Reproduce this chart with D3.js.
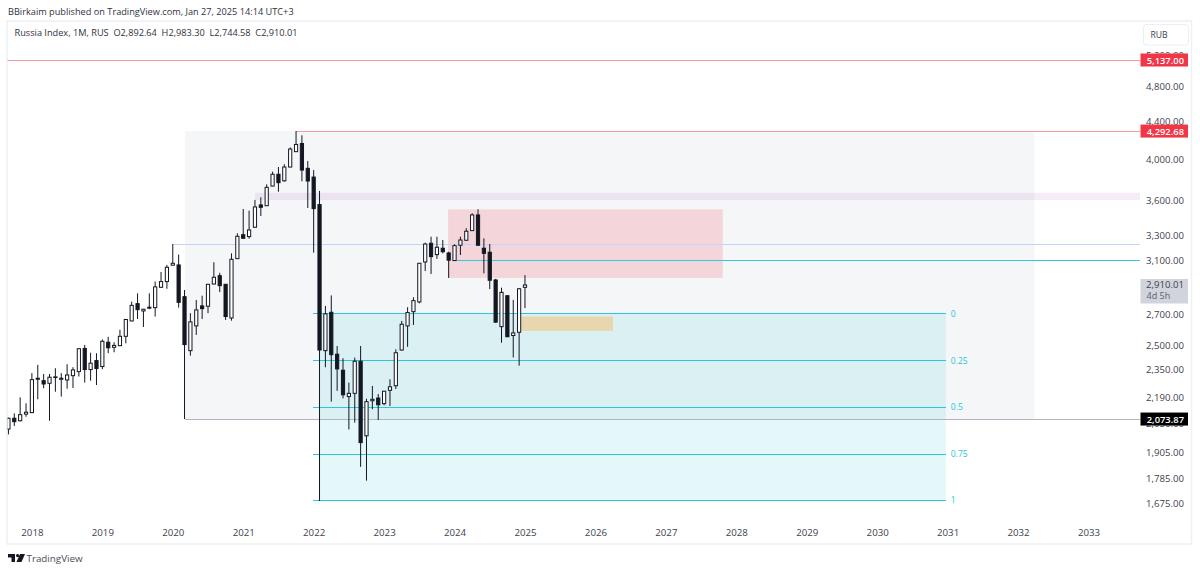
<!DOCTYPE html>
<html>
<head>
<meta charset="utf-8">
<script src="https://cdn.jsdelivr.net/npm/d3@7"></script>
<style>
  html, body { margin: 0; padding: 0; background: #fff; }
  svg { display: block; font-family: "Open Sans", sans-serif; }
</style>
</head>
<body>
<div id="chart"></div>
<script>
// monthly candles, first one is Sep 2017 (month index -4, Jan 2018 = 0)
const firstMonth = -4
const opens = [2022,2078,2065,2100,2108,2293,2285,2270,2303,2293,2289,2314,2338,2479,2350,2404,2368,2518,2486,2496,2556,2657,2776,2725,2744,2748,2893,2935,3059,3061,2825,2465,2624,2760,2758,2917,2979,2915,2677,3110,3304,3288,3367,3562,3555,3736,3849,3786,3920,4075,4160,3907,3822,3565,2465,2716,2443,2346,2195,2213,2400,1988,2172,2187,2156,2230,2256,2469,2624,2720,2788,3084,3233,3142,3193,3155,3095,3217,3258,3338,3473,3193,3161,2947,2619,2832,2561,2582,2892.64]
const highs = [2081,2104,2191,2158,2329,2378,2324,2324,2358,2329,2382,2364,2481,2501,2452,2449,2536,2553,2518,2599,2668,2790,2849,2739,2849,2935,3007,3061,3227,3142,2873,2710,2802,2832,2917,3082,3001,2917,3152,3316,3526,3511,3607,3631,3752,3874,3920,3947,4120,4292.68,4247,3980,3890,3690,2760,2834,2494,2418,2274,2422,2494,2183,2255,2209,2226,2293,2473,2657,2751,2821,3075,3238,3287,3287,3260,3165,3225,3287,3358,3488,3523,3274,3227,2955,2890,2837,2802,2888,2983.30]
const lows = [1995,2038,2062,2086,2105,2180,2242,2065,2222,2195,2239,2243,2309,2274,2285,2260,2352,2449,2455,2494,2511,2655,2670,2617,2737,2687,2888,2882,3058,2748,2073.87,2434,2565,2670,2710,2915,2858,2664,2659,3110,3271,3271,3361,3464,3553,3735,3683,3777,3918,4073,3781,3535,3157,1686,2364,2167,2227,2185,2020,2055,1838,1775,2126,2069,2147,2143,2237,2465,2489,2630,2778,3014,2992,3108,3152,2962,3092,3139,3252,3338,3214,2997,2880,2646,2515,2552,2423,2373,2744.58]
const closes = [2078,2060,2097,2110,2291,2299,2266,2305,2307,2299,2318,2348,2477,2350,2388,2356,2524,2483,2498,2556,2667,2764,2734,2737,2751,2896,2935,3043,3074,2785,2503,2651,2732,2741,2915,2967,2905,2687,3105,3291,3274,3344,3544,3541,3724,3849,3768,3920,4102,4150,3890,3784,3529,2469,2705,2440,2354,2205,2213,2400,1954,2167,2180,2150,2225,2250,2452,2635,2714,2797,3074,3227,3126,3201,3165,3098,3214,3260,3333,3473,3217,3152,2945,2649,2856,2553,2578,2882,2910.01]

const yearLabels = [2018,2019,2020,2021,2022,2023,2024,2025,2026,2027,2028,2029,2030,2031,2032,2033]
const priceTicks = [5200,4800,4400,4000,3600,3300,3100,2700,2500,2350,2190,2050,1905,1785,1675]

const fibLabels = ["0","0.25","0.5","0.75","1"]
const fibPrices = [2705,2404,2136,1897,1689]

const resistanceTop = 5137
const peakPrice = 4292.68
const covidLow = 2073.87
const lastClose = 2910.01
const blueLevel = 3227
const cyanLevel = 3098

const width = 1200
const height = 572
const plotLeft = 7.5
const plotRight = 1140
const labelRight = 1184

const x = d3.scaleLinear().domain([0, 180]).range([31.9, 1088.5])
const y = d3.scaleLog().domain([5137, 1675]).range([60, 503.6])
const lastMonth = x.invert(plotRight)
const money = d3.format(",.2f")

const svg = d3.select("#chart").append("svg").attr("width", width).attr("height", height)

// outer frame
svg.append("rect")
    .attr("x", plotLeft - 0.5).attr("y", 21)
    .attr("width", 1192 - plotLeft).attr("height", 523)
    .attr("fill", "#fff").attr("stroke", "#eef0f5").attr("stroke-width", 1.5)

svg.append("clipPath").attr("id", "plot-clip").append("rect")
    .attr("x", plotLeft).attr("y", 22).attr("width", plotRight - plotLeft).attr("height", 520)

const plot = svg.append("g").attr("clip-path", "url(#plot-clip)")

// helper for the drawn rectangles
const box = (m0, m1, p0, p1, fill) =>
    plot.append("rect")
        .attr("x", x(m0)).attr("width", x(m1) - x(m0))
        .attr("y", y(p0)).attr("height", y(p1) - y(p0))
        .attr("fill", fill)

const hline = (m0, m1, price, color) =>
    plot.append("line")
        .attr("x1", x(m0)).attr("x2", x(m1))
        .attr("y1", y(price)).attr("y2", y(price))
        .attr("stroke", color)
        .attr("shape-rendering", "crispEdges")

box(26.1, 170.8, peakPrice, covidLow, "#f5f6f8")
box(38, lastMonth, 3673, 3607, "rgba(156,39,176,0.09)")
box(70.9, 117.7, 3522, 2962, "rgba(242,54,69,0.17)")
box(49, 155.7, fibPrices[0], fibPrices[4], "rgba(0,188,212,0.105)")
box(83.3, 99, 2687, 2591, "#e8d7ae")

hline(-10, lastMonth, resistanceTop, "#f49aa1")
hline(45, lastMonth, peakPrice, "#f49aa1")
hline(26, lastMonth, covidLow, "#b2b5be")
hline(24, lastMonth, blueLevel, "#c3d4fa")
hline(72.4, lastMonth, cyanLevel, "#37c6dc")

fibPrices.forEach(p => hline(47.84, 155.7, p, "#2cc7dc"))

svg.selectAll("text.fib")
    .data(fibLabels)
    .enter()
    .append("text")
    .attr("class", "fib")
    .attr("x", x(155.7) + 5)
    .attr("y", (d, i) => y(fibPrices[i]) + 3)
    .attr("font-size", 8.5)
    .attr("fill", "#26c6da")
    .text(d => d)

// candles
const candles = opens.map((o, i) => ({
    month: firstMonth + i, o, h: highs[i], l: lows[i], c: closes[i]
}))
const candleW = 3.2
const ink = "#131722"

const cg = plot.selectAll("g.candle")
    .data(candles)
    .enter()
    .append("g")
    .attr("class", "candle")

cg.append("line")
    .attr("x1", d => x(d.month)).attr("x2", d => x(d.month))
    .attr("y1", d => y(d.h)).attr("y2", d => y(d.l))
    .attr("stroke", ink)

cg.append("rect")
    .attr("x", d => x(d.month) - candleW / 2)
    .attr("width", candleW)
    .attr("y", d => y(Math.max(d.o, d.c)))
    .attr("height", d => Math.abs(y(d.o) - y(d.c)))
    .attr("fill", d => (d.c >= d.o ? "#fff" : ink))
    .attr("stroke", ink)

// price axis
const yAxis = svg.append("g")
    .attr("transform", `translate(${labelRight},0)`)
    .call(d3.axisRight(y).tickValues(priceTicks).tickFormat(money).tickSize(0).tickPadding(0))
yAxis.select(".domain").remove()
yAxis.selectAll("text")
    .attr("text-anchor", "end")
    .attr("font-size", 9.6)
    .attr("font-family", "Open Sans")
    .attr("fill", "#3d414c")

// time axis
const xAxis = svg.append("g")
    .attr("transform", `translate(0,529)`)
    .call(d3.axisBottom(x)
        .tickValues(yearLabels.map((d, i) => i * 12))
        .tickFormat((d, i) => yearLabels[i])
        .tickSize(0).tickPadding(0))
xAxis.select(".domain").remove()
xAxis.selectAll("text")
    .attr("font-size", 9.7)
    .attr("font-family", "Open Sans")
    .attr("fill", "#3d414c")

// price tags
const tag = (price, fill, color) => {
    svg.append("rect")
        .attr("x", 1140.5).attr("width", 47.5)
        .attr("y", y(price) - 6.5).attr("height", 13)
        .attr("fill", fill)
    svg.append("text")
        .attr("x", labelRight).attr("y", y(price) + 3.5)
        .attr("text-anchor", "end")
        .attr("font-size", 9.4).attr("font-weight", 600)
        .attr("fill", color)
        .text(money(price))
}
tag(resistanceTop, "#f23645", "#fff")
tag(peakPrice, "#f23645", "#fff")
tag(covidLow, "#000", "#fff")

// current price with countdown
svg.append("rect")
    .attr("x", 1140.5).attr("y", 279).attr("width", 47.5).attr("height", 24.5)
    .attr("fill", "#d1d4dc")
svg.append("text")
    .attr("x", labelRight).attr("y", y(lastClose) + 3.5)
    .attr("text-anchor", "end").attr("font-size", 9.6).attr("fill", "#3d414c")
    .text(money(lastClose))
svg.append("text")
    .attr("x", 1146.5).attr("y", y(lastClose) + 14.5)
    .attr("font-size", 9).attr("fill", "#5d606b")
    .text("4d 5h")

// currency button
svg.append("rect")
    .attr("x", 1143.5).attr("y", 24.5).attr("width", 45).attr("height", 20.5).attr("rx", 3)
    .attr("fill", "#fff").attr("stroke", "#eceef2")
svg.append("text")
    .attr("x", 1150.5).attr("y", 38)
    .attr("font-size", 8.6).attr("fill", "#3d414c")
    .text("RUB")

// header
svg.append("text")
    .attr("x", 8).attr("y", 15)
    .attr("font-size", 9.2).attr("fill", "#2f3240")
    .text("BBirkaim published on TradingView.com, Jan 27, 2025 14:14 UTC+3")

svg.append("text")
    .attr("x", 14.5).attr("y", 36)
    .attr("font-size", 9.2).attr("fill", "#2f3240")
    .attr("xml:space", "preserve")
    .text(`Russia Index, 1M, RUS  O${money(opens[88])}  H${money(highs[88])}  L${money(lows[88])}  C${money(closes[88])}`)

// TradingView logo
svg.append("path")
    .attr("d", "M8 554h7v8h-3.5v-4.5H8z M20 554h5l-3.5 8h-5z")
    .attr("fill", "#131722")
svg.append("circle").attr("cx", 17.6).attr("cy", 555.6).attr("r", 1.6).attr("fill", "#131722")
svg.append("text")
    .attr("x", 26.5).attr("y", 561.5)
    .attr("font-size", 9.8).attr("fill", "#4a4d58")
    .text("TradingView")
</script>
</body>
</html>
